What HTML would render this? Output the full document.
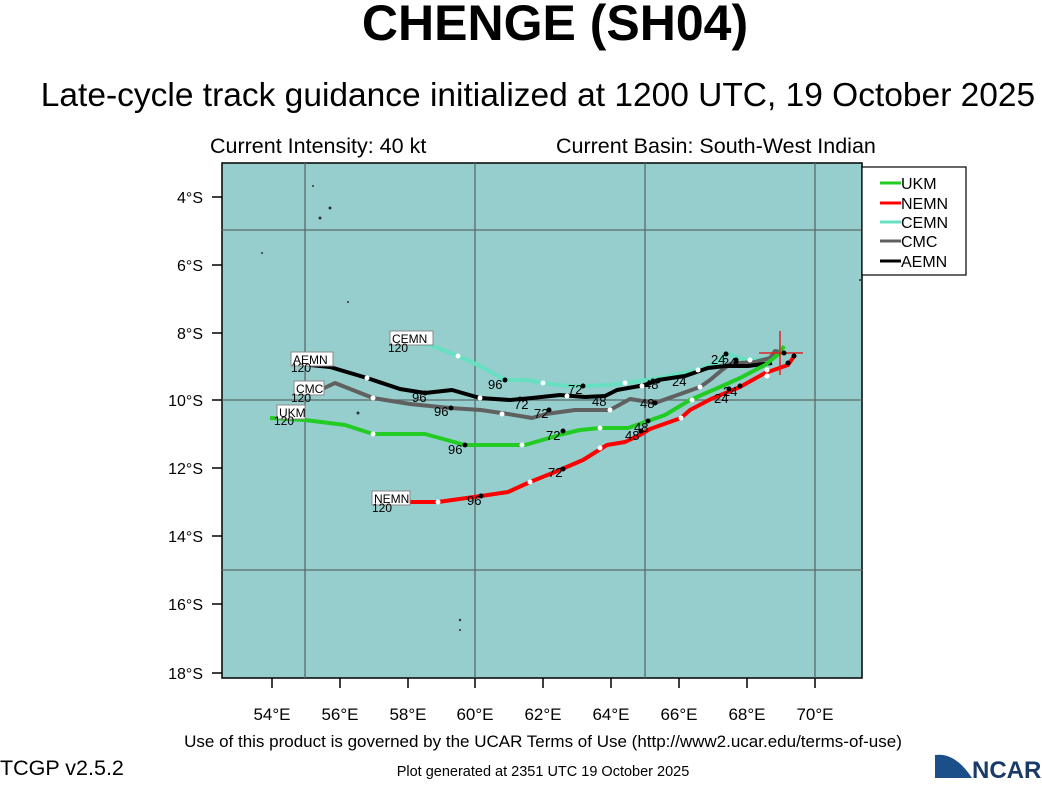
<!DOCTYPE html>
<html><head><meta charset="utf-8"><style>
body{margin:0;background:#fff;width:1042px;height:780px;overflow:hidden;font-family:"Liberation Sans",sans-serif}
</style></head><body>
<svg width="1042" height="780" xmlns="http://www.w3.org/2000/svg" font-family="Liberation Sans, sans-serif">
<text x="555" y="40" text-anchor="middle" font-size="50" font-weight="bold">CHENGE (SH04)</text>
<text x="538" y="106" text-anchor="middle" font-size="33.5">Late-cycle track guidance initialized at 1200 UTC, 19 October 2025</text>
<text x="210" y="153" font-size="21.5">Current Intensity: 40 kt</text>
<text x="556" y="153" font-size="21.5">Current Basin: South-West Indian</text>
<rect x="222" y="163" width="640" height="515" fill="#96cece" stroke="#000" stroke-width="1.5"/>
<g stroke="#5a6a6a" stroke-width="1.3">
<line x1="305" y1="163" x2="305" y2="678"/><line x1="475" y1="163" x2="475" y2="678"/>
<line x1="645" y1="163" x2="645" y2="678"/><line x1="815" y1="163" x2="815" y2="678"/>
<line x1="222" y1="230" x2="862" y2="230"/><line x1="222" y1="400" x2="862" y2="400"/>
<line x1="222" y1="570" x2="862" y2="570"/></g>
<g stroke="#000" stroke-width="1.5">
<line x1="212" y1="197" x2="222" y2="197"/><line x1="212" y1="265" x2="222" y2="265"/><line x1="212" y1="333" x2="222" y2="333"/><line x1="212" y1="400" x2="222" y2="400"/><line x1="212" y1="468" x2="222" y2="468"/><line x1="212" y1="536" x2="222" y2="536"/><line x1="212" y1="604" x2="222" y2="604"/><line x1="212" y1="673" x2="222" y2="673"/>
<line x1="272" y1="678" x2="272" y2="688"/><line x1="340" y1="678" x2="340" y2="688"/><line x1="408" y1="678" x2="408" y2="688"/><line x1="475" y1="678" x2="475" y2="688"/><line x1="543" y1="678" x2="543" y2="688"/><line x1="611" y1="678" x2="611" y2="688"/><line x1="679" y1="678" x2="679" y2="688"/><line x1="747" y1="678" x2="747" y2="688"/><line x1="815" y1="678" x2="815" y2="688"/>
</g>
<g font-size="16" text-anchor="end">
<text x="203" y="203">4°S</text><text x="203" y="271">6°S</text><text x="203" y="339">8°S</text><text x="203" y="406">10°S</text><text x="203" y="474">12°S</text><text x="203" y="542">14°S</text><text x="203" y="610">16°S</text><text x="203" y="679">18°S</text></g>
<g font-size="17" text-anchor="middle">
<text x="272" y="720">54°E</text><text x="340" y="720">56°E</text><text x="408" y="720">58°E</text><text x="475" y="720">60°E</text><text x="543" y="720">62°E</text><text x="611" y="720">64°E</text><text x="679" y="720">66°E</text><text x="747" y="720">68°E</text><text x="815" y="720">70°E</text></g>
<g fill="#333"><circle cx="313" cy="186" r="1"/><circle cx="330" cy="208" r="1.5"/><circle cx="320" cy="218" r="1.5"/><circle cx="262" cy="253" r="1"/><circle cx="348" cy="302" r="1"/><circle cx="358" cy="413" r="1.5"/><circle cx="460" cy="620" r="1.2"/><circle cx="460" cy="630" r="1"/><circle cx="860" cy="280" r="1"/></g>
<g fill="none" stroke-width="4" stroke-linejoin="round">
<polyline stroke="#66e0c0" points="415,343 430,345 458,356 478,365 505,380 527,380 543,383 568,386 583,386 610,385 625,383 660,378 698,370 718,362 727,353 735,357 750,360 764,359 772,358"/>
<polyline stroke="#606060" points="320,390 335,383 373,398 410,404 450,408 481,410 508,414 532,418 546,414 575,410 610,410 630,399 655,403 700,387 710,380 722,370 730,364 740,363 755,362 770,358 775,351 785,353"/>
<polyline stroke="#000" points="310,365 330,367 367,378 400,389 425,393 452,390 480,398 510,400 532,398 560,395 585,397 605,396 617,390 645,385 658,380 685,376 708,368 725,366 748,366 772,363"/>
<polyline stroke="#22cc22" points="270,418 305,420 345,425 373,434 425,434 465,445 525,445 563,434 580,430 600,428 628,428 648,421 665,415 690,400 720,387 740,378 765,365 780,353 784,346"/>
<polyline stroke="#ff0000" points="398,502 438,502 481,496 508,492 530,482 555,472 583,460 607,445 625,442 640,435 650,429 681,418 690,410 711,399 740,387 765,373 788,365 795,355"/>
</g>
<g stroke="#dd2222" stroke-width="1.5"><line x1="780" y1="331" x2="780" y2="375"/><line x1="759" y1="353" x2="803" y2="353"/></g>
<g fill="#fff"><circle cx="458" cy="356" r="2.5"/><circle cx="543" cy="383" r="2.5"/><circle cx="625" cy="383" r="2.5"/><circle cx="698" cy="370" r="2.5"/><circle cx="750" cy="360" r="2.5"/>
<circle cx="367" cy="378" r="2.5"/><circle cx="480" cy="398" r="2.5"/><circle cx="567" cy="396" r="2.5"/><circle cx="642" cy="386" r="2.5"/>
<circle cx="373" cy="398" r="2.5"/><circle cx="502" cy="414" r="2.5"/><circle cx="610" cy="410" r="2.5"/><circle cx="700" cy="387" r="2.5"/>
<circle cx="373" cy="434" r="2.5"/><circle cx="522" cy="445" r="2.5"/><circle cx="600" cy="428" r="2.5"/><circle cx="692" cy="400" r="2.5"/><circle cx="767" cy="370" r="2.5"/>
<circle cx="438" cy="502" r="2.5"/><circle cx="530" cy="482" r="2.5"/><circle cx="600" cy="448" r="2.5"/><circle cx="681" cy="418" r="2.5"/><circle cx="767" cy="376" r="2.5"/></g>
<g fill="#000"><circle cx="505" cy="380" r="2.5"/><circle cx="583" cy="386" r="2.5"/><circle cx="658" cy="381" r="2.5"/><circle cx="726" cy="354" r="2.5"/>
<circle cx="425" cy="393" r="2.5"/><circle cx="520" cy="399" r="2.5"/><circle cx="653" cy="381" r="2.5"/><circle cx="736" cy="360" r="2.5"/>
<circle cx="451" cy="408" r="2.5"/><circle cx="549" cy="410" r="2.5"/><circle cx="655" cy="403" r="2.5"/><circle cx="736" cy="362" r="2.5"/>
<circle cx="465" cy="445" r="2.5"/><circle cx="563" cy="431" r="2.5"/><circle cx="648" cy="421" r="2.5"/><circle cx="740" cy="386" r="2.5"/>
<circle cx="481" cy="496" r="2.5"/><circle cx="563" cy="469" r="2.5"/><circle cx="641" cy="431" r="2.5"/><circle cx="729" cy="389" r="2.5"/>
<circle cx="784" cy="353" r="2.5"/><circle cx="794" cy="356" r="2.5"/><circle cx="788" cy="363" r="2.5"/></g>
<g font-size="13">
<text x="488" y="389">96</text><text x="568" y="394">72</text><text x="644" y="389">48</text><text x="711" y="364">24</text>
<text x="412" y="402">96</text><text x="514" y="409">72</text><text x="592" y="406">48</text><text x="722" y="367">24</text>
<text x="434" y="416">96</text><text x="534" y="418">72</text><text x="640" y="408">48</text><text x="672" y="386">24</text>
<text x="448" y="454">96</text><text x="546" y="440">72</text><text x="634" y="432">48</text><text x="723" y="396">24</text>
<text x="467" y="505">96</text><text x="548" y="477">72</text><text x="625" y="440">48</text><text x="714" y="403">24</text></g>
<g font-size="12"><rect x="390" y="331" width="43" height="14" fill="#fff" stroke="#888"/><text x="392" y="343">CEMN</text><text x="388" y="352">120</text>
<rect x="291" y="352" width="42" height="14" fill="#fff" stroke="#888"/><text x="293" y="364">AEMN</text><text x="291" y="372">120</text>
<rect x="294" y="381" width="30" height="14" fill="#fff" stroke="#888"/><text x="296" y="393">CMC</text><text x="291" y="402">120</text>
<rect x="277" y="405" width="28" height="14" fill="#fff" stroke="#888"/><text x="279" y="417">UKM</text><text x="274" y="425">120</text>
<rect x="372" y="491" width="38" height="14" fill="#fff" stroke="#888"/><text x="374" y="503">NEMN</text><text x="372" y="512">120</text></g>
<rect x="862" y="167" width="104" height="108" fill="#fff" stroke="#000" stroke-width="1.2"/>
<g stroke-width="3"><line x1="880" y1="183" x2="901" y2="183" stroke="#22cc22"/><line x1="880" y1="203" x2="901" y2="203" stroke="#ff0000"/><line x1="880" y1="222" x2="901" y2="222" stroke="#66e0c0"/><line x1="880" y1="241" x2="901" y2="241" stroke="#606060"/><line x1="880" y1="261" x2="901" y2="261" stroke="#000"/></g>
<g font-size="16"><text x="901" y="189">UKM</text><text x="901" y="209">NEMN</text><text x="901" y="228">CEMN</text><text x="901" y="247">CMC</text><text x="901" y="267">AEMN</text></g>
<text x="543" y="747" text-anchor="middle" font-size="17">Use of this product is governed by the UCAR Terms of Use (http://www2.ucar.edu/terms-of-use)</text>
<text x="0" y="775" font-size="21.5">TCGP v2.5.2</text>
<text x="543" y="776" text-anchor="middle" font-size="14.5">Plot generated at 2351 UTC   19 October 2025</text>
<path d="M935,778 L935,755 Q955,752 972,778 Z" fill="#1a4f8a"/>
<text x="972" y="778" font-size="24" font-weight="bold" fill="#1a3a6a">NCAR</text>
</svg>
</body></html>
